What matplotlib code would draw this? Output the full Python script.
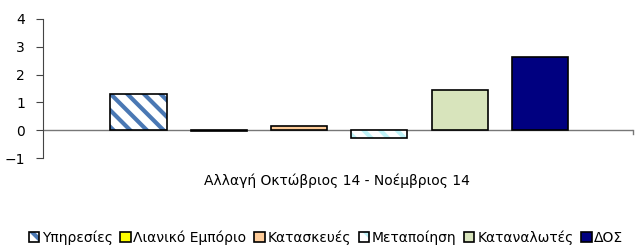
import matplotlib.pyplot as plt
import numpy as np

# Τιμές (αλλαγή Οκτώβριος 14 - Νοέμβριος 14)
categories = ['Υπηρεσίες', 'Λιανικό Εμπόριο', 'Κατασκευές',
              'Μεταποίηση', 'Καταναλωτές', 'ΔΟΣ']
values = [1.30, -0.02, 0.15, -0.28, 1.43, 2.62]

face_colors = ['white', '#ffff00', '#ffcc99', 'white', '#d8e4bc', '#000080']
hatches = ['\\\\', None, None, '\\\\', None, None]
hatch_colors = ['#4a78b4', None, None, '#bff3f8', None, None]

plt.rcParams['font.family'] = ['DejaVu Sans']
plt.rcParams['hatch.linewidth'] = 3.0

fig = plt.figure(figsize=(6.38, 2.48), dpi=100)
ax = fig.add_axes([43 / 638, 1 - 158 / 248, 590 / 638, 139 / 248])

x = np.arange(len(values))
for i, (v, fc, h, hc) in enumerate(zip(values, face_colors, hatches, hatch_colors)):
    b = ax.bar(x[i], v, width=0.7, color=fc, edgecolor='black',
               linewidth=1.2, zorder=3, label=categories[i])
    if h is not None:
        b[0].set_hatch(h)
        b[0]._hatch_color = plt.matplotlib.colors.to_rgba(hc)
        b[0].stale = True

ax.set_xlim(-1.19, 6.16)
ax.set_ylim(-1, 4)
ax.set_yticks([-1, 0, 1, 2, 3, 4])
ax.set_yticklabels(['\u22121', '0', '1', '2', '3', '4'])
ax.set_xticks([])
for s in ['top', 'right', 'bottom']:
    ax.spines[s].set_visible(False)
ax.spines['left'].set_color('#444444')
ax.spines['left'].set_linewidth(0.8)
ax.axhline(0, color='#777777', linewidth=1.0, zorder=2)
ax.plot([6.16, 6.16], [0, -0.15], color='#777777', linewidth=1.0, clip_on=False)
ax.tick_params(axis='y', direction='out', length=5, width=0.8,
               color='#444444', labelsize=10, pad=8)

fig.text(337 / 638, 1 - 181 / 248, 'Αλλαγή Οκτώβριος 14 - Νοέμβριος 14',
         ha='center', va='center', fontsize=10)

handles, labels = ax.get_legend_handles_labels()
fig.legend(handles, labels, loc='center', bbox_to_anchor=(326 / 638, 1 - 238 / 248),
           ncol=6, frameon=False, fontsize=10, handlelength=0.75, handleheight=0.75,
           handletextpad=0.2, columnspacing=0.55, borderaxespad=0)

fig.savefig('out.png', dpi=100)
